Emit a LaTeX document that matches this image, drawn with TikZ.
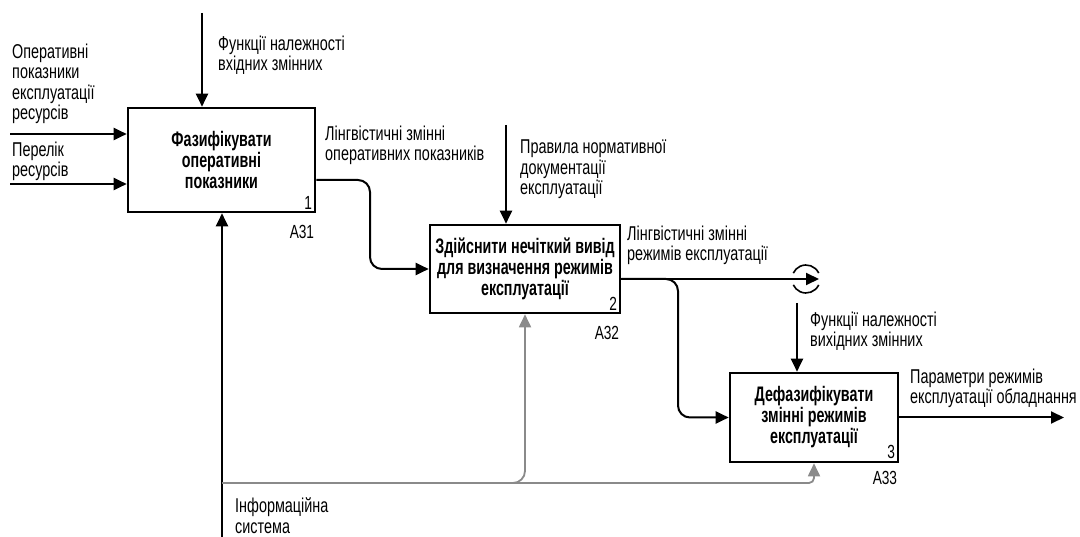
\documentclass[tikz,border=0pt]{standalone}
\usepackage{fontspec}
\setmainfont{Liberation Sans}[FakeStretch=0.72]
\newfontfamily\boxfont{Liberation Sans}[FakeStretch=0.68]
\usetikzlibrary{arrows.meta}
\definecolor{mgray}{HTML}{8A8A8A}
\tikzset{
  proc/.style={draw=black, line width=2.6pt, fill=white, inner sep=0pt, align=center,
    font=\boxfont\bfseries\fontsize{21}{21}\selectfont},
  lbl/.style={inner sep=0pt, align=left, anchor=base west, font=\fontsize{20}{20.5}\selectfont},
  num/.style={inner sep=0pt, font=\fontsize{19}{20}\selectfont},
  arr/.style={draw=black, line width=2pt, -{Triangle[length=13pt,width=12pt]}},
  garr/.style={draw=mgray, line width=1.8pt, -{Triangle[length=13pt,width=12pt]}},
  tun/.style={draw=black, line width=1.6pt}
}
\begin{document}
\begin{tikzpicture}[x=1pt,y=-1pt]
\useasboundingbox (0,0) rectangle (1080,537);

% boxes
\node[proc, minimum width=187pt, minimum height=104pt] (b1) at (221.5,160) {Фазифікувати\\оперативні\\показники};
\node[proc, minimum width=190pt, minimum height=88pt] (b2) at (525,269) {Здійснити нечіткий вивід\\для визначення режимів\\експлуатації};
\node[proc, minimum width=168pt, minimum height=89pt] (b3) at (814,417.5) {Дефазифікувати\\змінні режимів\\експлуатації};

% numbers
\node[num, anchor=south east] (n1) at ([shift={(-4pt,4pt)}]b1.south east) {1};
\node[num, anchor=south east] (n2) at ([shift={(-4pt,4pt)}]b2.south east) {2};
\node[num, anchor=south east] (n3) at ([shift={(-4pt,4pt)}]b3.south east) {3};
\node[num, anchor=north east] (a1) at ([shift={(-2pt,-12pt)}]b1.south east) {A31};
\node[num, anchor=north east] (a2) at ([shift={(-2pt,-12pt)}]b2.south east) {A32};
\node[num, anchor=north east] (a3) at ([shift={(-2pt,-8pt)}]b3.south east) {A33};

% free ends
\coordinate (in1) at (10,134);
\coordinate (in2) at (10,184);
\coordinate (c1) at (202,13);
\coordinate (m1) at (222,537);
\coordinate (g0) at (222,483);
\coordinate (k1) at (370,0);
\coordinate (c2) at (506,125);
\coordinate (k2) at (678,0);
\coordinate (tc) at (806,279);
\coordinate (t1) at (819,279);
\coordinate (c3) at (797,303);
\coordinate (o3) at (1064,417.5);

% inputs / controls / mechanism of box 1
\draw[arr] (in1) -- (in1 -| b1.west);
\draw[arr] (in2) -- (in2 -| b1.west);
\draw[arr] (c1) -- (c1 |- b1.north);
\draw[arr] (m1) -- (m1 |- b1.south);

% gray mechanism branches
\draw[garr, rounded corners=5pt] (g0) -| (b3.south);
\draw[garr, rounded corners=12pt] (g0) -| (b2.south);

% box1 -> box2
\draw[arr, rounded corners=12pt] ([yshift=-20pt]b1.east) -| (k1 |- b2.west) -- (b2.west);
% control box2
\draw[arr] (c2) -- (c2 |- b2.north);
% box2 output to tunnel
\draw[arr] ([yshift=-10pt]b2.east) -- (t1);
\draw[tun] ([shift={(-25:14)}]tc) arc[start angle=-25, end angle=-155, radius=14];
\draw[tun] ([shift={(25:14)}]tc) arc[start angle=25, end angle=155, radius=14];
% box2 -> box3
\draw[arr, rounded corners=12pt] ([yshift=-10pt]b2.east) -| (k2 |- b3.west) -- (b3.west);
% control box3
\draw[arr] (c3) -- (c3 |- b3.north);
% output box3
\draw[arr] (b3.east) -- (o3);

% labels (anchor = baseline of last line)
\node[lbl] (l1) at (12,120) {Оперативні\\показники\\експлуатації\\ресурсів};
\node[lbl] (l2) at (12,177) {Перелік\\ресурсів};
\node[lbl] (l3) at (218,71) {Функції належності\\вхідних змінних};
\node[lbl] (l4) at (325,161) {Лінгвістичні змінні\\оперативних показників};
\node[lbl] (l5) at (520,195) {Правила нормативної\\документації\\експлуатації};
\node[lbl] (l6) at (627,261) {Лінгвістичні змінні\\режимів експлуатації};
\node[lbl] (l7) at (810,347) {Функції належності\\вихідних змінних};
\node[lbl] (l8) at (910,404) {Параметри режимів\\експлуатації обладнання};
\node[lbl] (l9) at (235,533) {Інформаційна\\система};
\end{tikzpicture}
\end{document}
